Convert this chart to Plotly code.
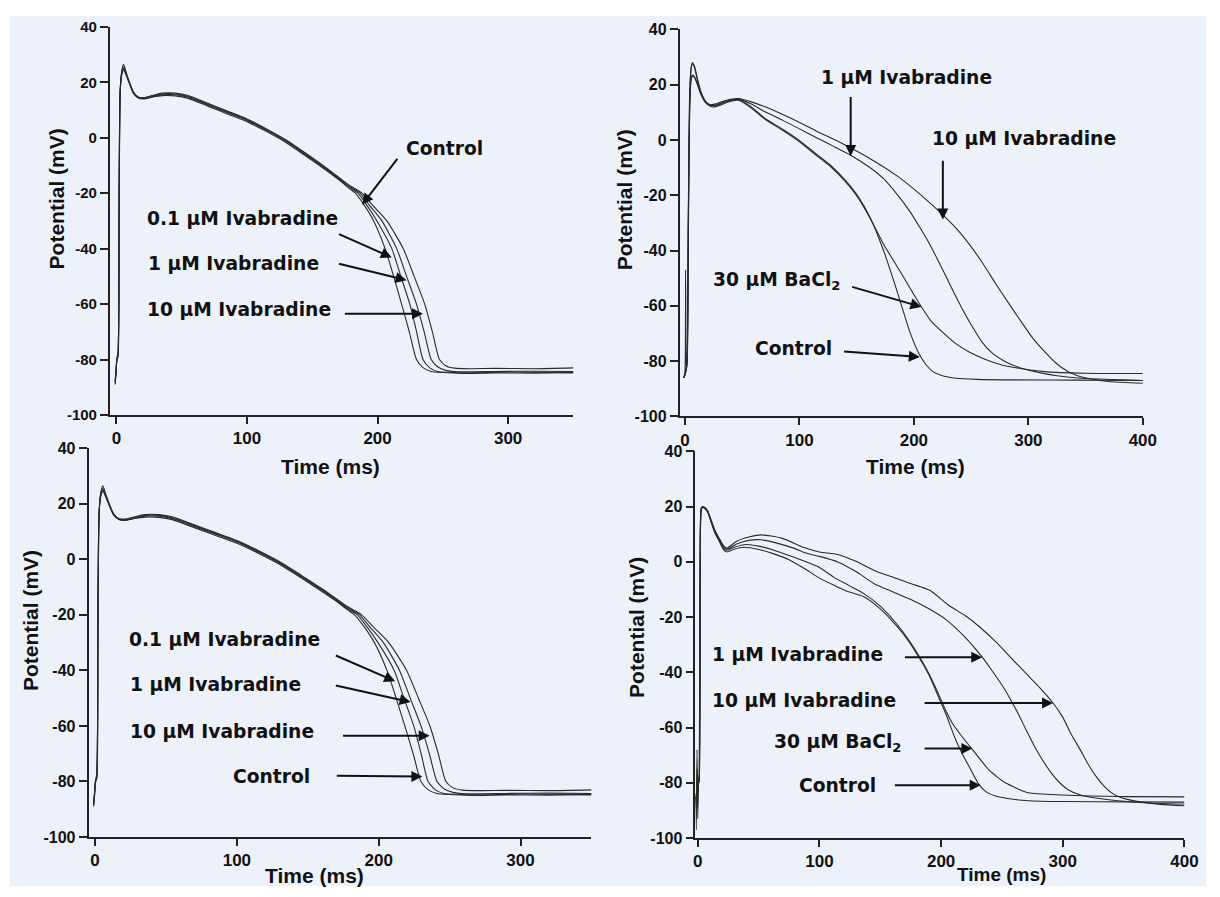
import plotly.graph_objects as go

W, H = 1220, 897

# ---------------- DATA ----------------
# Top-left / bottom-left panels (same recordings)
TL_T_EARLY = [-1.0, -0.3, 0.3, 1.2, 2.0, 2.8, 4.0, 5.5, 7.5, 10, 13, 17, 21, 27, 35, 45, 55, 70, 85, 100,
              115, 130, 145, 160, 172]
tl_control_v_early = [-89, -85, -80, -79, -30, 15, 24, 26.5, 23.5, 20, 16.5, 14.5, 14.2, 14.7, 15.2, 15.1, 14.2,
                      11.4, 8.6, 5.8, 2.2, -1.8, -6.6, -11.6, -15.8]
tl_iva01_v_early = [-88.5, -84, -80.5, -78.5, -26, 16, 23.5, 25.5, 23, 19.5, 16, 14.2, 14.0, 14.6, 15.5, 15.5,
                    14.6, 11.8, 9.0, 6.2, 2.6, -1.4, -6.2, -11.2, -15.5]
tl_iva1_v_early = [-88, -84, -80, -78, -24, 16.5, 23, 25, 22.8, 19.6, 16.2, 14.4, 14.2, 14.9, 15.8, 15.8, 14.9,
                   12.1, 9.3, 6.5, 2.9, -1.1, -5.9, -10.9, -15.2]
tl_iva10_v_early = [-87.5, -83.5, -79.5, -77.5, -22, 17, 22.5, 24.5, 22.5, 19.5, 16.3, 14.6, 14.5, 15.2, 16.1,
                    16.1, 15.2, 12.4, 9.6, 6.8, 3.2, -0.8, -5.6, -10.6, -14.9]

tl_control_t_late = [178, 183, 190, 197, 205.8, 212.3, 218.4, 224.3, 229.8, 235, 241, 250, 265, 290, 320, 350]
tl_control_v_late = [-18.2, -20, -24.5, -30, -40, -50, -60, -70, -80, -83, -84.3, -84.7, -85, -84.8, -84.9, -84.7]
tl_iva01_t_late = [178, 185, 192, 199.5, 210.9, 217.8, 224.7, 229.9, 234.8, 240, 246, 255, 270, 300, 350]
tl_iva01_v_late = [-17.8, -20, -24.5, -30, -40, -50, -60, -70, -80, -83, -84.3, -84.6, -84.8, -84.5, -84.8]
tl_iva1_t_late = [178, 186.5, 194, 203.3, 214.7, 222.2, 229.8, 235.7, 241.1, 246.5, 253, 262, 290, 320, 350]
tl_iva1_v_late = [-17.4, -20, -24.5, -30, -40, -50, -60, -70, -80, -82.8, -84, -84.4, -84.3, -84.2, -84.3]
tl_iva10_t_late = [178, 188, 196.5, 207.1, 219.7, 228, 236.1, 242, 247.4, 252.5, 259, 270, 290, 320, 350]
tl_iva10_v_late = [-17.0, -20, -24.5, -30, -40, -50, -60, -70, -80, -82.3, -83.1, -83.3, -83.2, -83.3, -83]

# Top-right panel
TR_T_EARLY = [-1.0, 0.0, 0.6, 1.2, 2.0, 3.0, 4.2, 5.5, 6.5, 8.5, 11, 14, 18, 22, 26, 32, 40, 47]
tr_control_v_early = [-86, -84, -47, -83, -80, -30, 15, 26, 28, 26.5, 22, 17.5, 14, 12.6, 12.4, 13.2, 14.3, 14.6]
tr_bacl2_v_early = [-86, -85, -84, -83, -80, -35, 12, 22, 23.2, 22.5, 20, 16.5, 13.5, 12.2, 12.0, 12.8, 14.0, 14.4]
tr_iva1_v_early = [-86, -85, -84, -83, -79, -25, 18, 26.5, 27.5, 26, 21.5, 17, 13.8, 12.6, 12.6, 13.4, 14.5, 14.8]
tr_iva10_v_early = [-86, -85, -84, -82, -78, -28, 14, 22.5, 23.5, 22.8, 20.2, 16.8, 13.8, 12.8, 13.0, 13.8, 14.7,
                    15.0]

tr_control_t_late = [58, 70, 85, 99, 113, 127.6, 140, 150.6, 162, 173.5, 185, 196.6, 205.2, 211, 216.6, 225,
                     236.8, 255, 290, 340, 400]
tr_control_v_late = [12, 7.8, 4, 0.1, -4.5, -9.3, -14.5, -20, -28.2, -40, -54.3, -69.6, -77.9, -81.5, -83.8,
                     -85.3, -86.2, -86.6, -86.8, -86.9, -87]
tr_bacl2_t_late = [58, 70, 85, 99, 113, 127.6, 140, 150.6, 162, 173.5, 182, 190.8, 199, 206.6, 215, 225.3, 236,
                   248.3, 262, 277, 295, 314, 350, 400]
tr_bacl2_v_late = [11.6, 7.5, 3.6, -0.3, -5, -9.8, -15, -20.5, -28.5, -37.7, -43.5, -49.5, -55.3, -60.4, -65.5,
                   -69.6, -73.5, -76.7, -79.3, -81.4, -82.8, -83.8, -84.4, -84.5]
tr_iva1_t_late = [58, 70, 85, 98.9, 115, 130, 144.8, 160, 173.5, 185, 196.6, 205, 213.8, 221, 228.2, 235, 242.5,
                  251, 259.7, 269, 279.9, 292, 305.7, 325, 350, 400]
tr_iva1_v_late = [13, 10.2, 7.2, 4.3, 0.8, -2.3, -5.5, -9.5, -14, -19.5, -25.9, -31.5, -37.7, -43.5, -49.5,
                  -55.3, -61.3, -67.5, -73.2, -77.3, -80.2, -82.3, -83.8, -85.3, -86.3, -87]
tr_iva10_t_late = [58, 70, 85, 98.9, 115, 139, 160, 185, 205, 225.3, 237, 248.3, 260, 271.3, 283, 294.3, 304,
                   314.4, 324, 334.5, 343, 351.7, 370, 400]
tr_iva10_v_late = [13.8, 12, 9.3, 6.6, 3.2, -1.6, -6.3, -12.9, -19.5, -27.1, -32, -37.7, -44.5, -51.9, -59.2,
                   -66.1, -71.8, -76.7, -80.7, -83.8, -85.3, -86.2, -87.4, -88]

# Bottom-right panel
BR_T_EARLY = [-1.8, -1.2, -0.6, 0.0, 0.6, 1.2, 2.0, 2.8, 4.0, 6.0, 8.0, 11, 14, 17.6, 21, 24]
br_control_v_early = [-84, -97, -68, -93, -78, -80, -10, 19, 20, 19.5, 18.5, 14.5, 10.5, 7.5, 4.5, 3.6]
br_bacl2_v_early = [-85, -90, -75, -88, -80, -79, -5, 18.5, 19.8, 19.2, 18.2, 14.5, 10.8, 7.8, 5, 4.2]
br_iva1_v_early = [-85, -88, -80, -85, -80, -78, 0, 19, 20, 19.3, 18.3, 14.8, 11.2, 8.2, 5.5, 4.6]
br_iva10_v_early = [-85, -86, -82, -84, -80, -77, 5, 19.5, 20, 19.6, 18.6, 15.2, 11.6, 8.6, 6, 5]

br_control_t_late = [30, 38, 50, 62, 75, 88, 99, 112, 122, 136.5, 150, 163.6, 173, 182.5, 190, 196, 204, 212.2,
                     218, 223, 231, 237, 244.7, 256, 271.7, 300, 352.8, 400]
br_control_v_late = [4.6, 5.3, 4.5, 3, 0.8, -2.5, -5.6, -8.5, -10.5, -12.6, -17, -23.3, -28.5, -35.1, -41, -47,
                     -55.2, -64.7, -70, -74.1, -80.6, -83.3, -84.8, -85.8, -86.5, -86.8, -86.9, -87]
br_bacl2_t_late = [30, 40, 50, 62, 75, 88, 99, 112, 124, 136.5, 150, 163.6, 173, 182.5, 190, 196, 204, 210,
                   217.6, 228.4, 239.2, 252.8, 271.7, 300, 352.8, 400]
br_bacl2_v_late = [5.3, 6.3, 5.7, 4.3, 2.3, 0.2, -1.8, -5.6, -8.5, -11.5, -16, -22.5, -28, -34.5, -40.5, -46,
                   -54, -59, -63.5, -69.4, -75.3, -80, -83.6, -84.4, -85, -85.1]
br_iva1_t_late = [32, 42, 52, 65, 80, 88, 100, 115, 130, 145, 160, 176, 190, 204, 219, 233.8, 242, 250, 257,
                  263.6, 270, 277, 284, 290.6, 297, 304, 314, 325.8, 345, 370, 400]
br_iva1_v_late = [6.5, 7.8, 8, 6.8, 4.8, 3.3, 2.0, 0, -3.5, -7.9, -10.8, -13.8, -17, -20.9, -27, -34.5, -39.5,
                  -44.6, -49.8, -55.2, -61, -67, -72.2, -76.5, -79.8, -82.4, -84.3, -85.4, -86.5, -87.3, -87.7]
br_iva10_t_late = [32, 42, 52, 69, 88, 100, 115, 130, 145, 160, 176, 190.6, 207, 220, 231, 245, 258.2, 270, 281,
                   292, 300, 306.8, 314, 320.4, 327, 333.9, 339, 344.7, 352.8, 365, 380, 400]
br_iva10_v_late = [7.5, 9, 9.8, 8.6, 5.1, 3.6, 2.7, 0.2, -3.1, -5.5, -8, -10.3, -16, -19.5, -23.3, -29, -35.1,
                   -40.5, -45.5, -51.1, -56.3, -62.3, -67.8, -72.9, -77.5, -81.2, -83.3, -84.8, -86, -87, -87.8,
                   -88.3]

Y_TICKS = [-100, -80, -60, -40, -20, 0, 20, 40]
Y_TICK_LABELS = ["-100", "-80", "-60", "-40", "-20", "0", "20", "40"]
X_TICKS_350 = [0, 100, 200, 300]
X_TICKS_400 = [0, 100, 200, 300, 400]
X_TICK_LABELS_350 = ["0", "100", "200", "300"]
X_TICK_LABELS_400 = ["0", "100", "200", "300", "400"]

# ---------------- FIGURE ----------------
BG = "#EDF1FA"
LINE = "#2a2a2a"
AXC = "#222222"
TXT_FONT = dict(family="DejaVu Sans, Verdana, sans-serif", size=18.7, color="#111111", weight="bold")
TITLE_FONT = dict(family="Liberation Sans, Arial, sans-serif", size=21, color="#111111", weight="bold")

fig = go.Figure()


def add_trace(t, v, ax):
    fig.add_trace(go.Scatter(x=t, y=v, mode="lines", xaxis="x" + ax, yaxis="y" + ax,
                             line=dict(color=LINE, width=1.1, shape="spline", smoothing=0.6),
                             hoverinfo="skip", showlegend=False))


for ax in ["", "3"]:
    add_trace(TL_T_EARLY + tl_control_t_late, tl_control_v_early + tl_control_v_late, ax)
    add_trace(TL_T_EARLY + tl_iva01_t_late, tl_iva01_v_early + tl_iva01_v_late, ax)
    add_trace(TL_T_EARLY + tl_iva1_t_late, tl_iva1_v_early + tl_iva1_v_late, ax)
    add_trace(TL_T_EARLY + tl_iva10_t_late, tl_iva10_v_early + tl_iva10_v_late, ax)

add_trace(TR_T_EARLY + tr_control_t_late, tr_control_v_early + tr_control_v_late, "2")
add_trace(TR_T_EARLY + tr_bacl2_t_late, tr_bacl2_v_early + tr_bacl2_v_late, "2")
add_trace(TR_T_EARLY + tr_iva1_t_late, tr_iva1_v_early + tr_iva1_v_late, "2")
add_trace(TR_T_EARLY + tr_iva10_t_late, tr_iva10_v_early + tr_iva10_v_late, "2")

add_trace(BR_T_EARLY + br_control_t_late, br_control_v_early + br_control_v_late, "4")
add_trace(BR_T_EARLY + br_bacl2_t_late, br_bacl2_v_early + br_bacl2_v_late, "4")
add_trace(BR_T_EARLY + br_iva1_t_late, br_iva1_v_early + br_iva1_v_late, "4")
add_trace(BR_T_EARLY + br_iva10_t_late, br_iva10_v_early + br_iva10_v_late, "4")


def xdom(a, b):
    return [a / W, b / W]


def ydom(top_px, bottom_px):
    return [1 - bottom_px / H, 1 - top_px / H]


def bold(labels):
    return ["<b>%s</b>" % s for s in labels]


def xaxis(dom, rng, ticks, labels, anchor):
    return dict(domain=dom, range=rng, tickvals=ticks, ticktext=bold(labels), anchor=anchor, showline=True,
                linecolor=AXC, linewidth=1.8, ticks="outside", ticklen=7, tickwidth=1.5, tickcolor=AXC,
                showgrid=False, zeroline=False, fixedrange=True,
                tickfont=dict(family="Liberation Sans, Arial, sans-serif", size=17, color="#111"))


def yaxis(dom, anchor, size):
    return dict(domain=dom, range=[-100, 40], tickvals=Y_TICKS, ticktext=bold(Y_TICK_LABELS), anchor=anchor,
                showline=True, linecolor=AXC, linewidth=1.8, ticks="outside", ticklen=8, tickwidth=1.5,
                tickcolor=AXC, showgrid=False, zeroline=False, fixedrange=True,
                tickfont=dict(family="Liberation Sans, Arial, sans-serif", size=size, color="#111"))


layout = dict(
    width=W, height=H, margin=dict(l=0, r=0, t=0, b=0),
    paper_bgcolor="white", plot_bgcolor="rgba(0,0,0,0)", showlegend=False,
    xaxis=xaxis(xdom(109.3, 579.0), [-5.06, 350], X_TICKS_350, X_TICK_LABELS_350, "y"),
    yaxis=yaxis(ydom(18.2, 414.3), "x", 15),
    xaxis2=xaxis(xdom(686.7, 1156.0), [-4.57, 400], X_TICKS_400, X_TICK_LABELS_400, "y2"),
    yaxis2=yaxis(ydom(20.9, 415.7), "x2", 16),
    xaxis3=xaxis(xdom(87.7, 597.3), [-4.59, 350], X_TICKS_350, X_TICK_LABELS_350, "y3"),
    yaxis3=yaxis(ydom(448.2, 845.0), "x3", 16),
    xaxis4=xaxis(xdom(702.7, 1198.2), [-1.87, 400], X_TICKS_400, X_TICK_LABELS_400, "y4"),
    yaxis4=yaxis(ydom(451.5, 846.0), "x4", 16),
    shapes=[dict(type="rect", xref="paper", yref="paper", x0=8 / W, x1=1, y0=2 / H, y1=1 - 7 / H,
                 fillcolor=BG, line=dict(width=0), layer="below")],
)
fig.update_layout(**layout)

annotations = []

# label texts: (text, x, y, axis suffix)
labels = [
    ("Control", 250.9, -4.0, ""), ("0.1 µM Ivabradine", 96.4, -29.2, ""),
    ("1 µM Ivabradine", 89.3, -45.4, ""), ("10 µM Ivabradine", 94.1, -62.0, ""),
    ("1 µM Ivabradine", 193.7, 22.5, "2"), ("10 µM Ivabradine", 296.3, 0.5, "2"),
    ("30 µM BaCl<sub>2</sub>", 79.9, -51.0, "2"), ("Control", 94.6, -75.5, "2"),
    ("0.1 µM Ivabradine", 91.5, -28.7, "3"), ("1 µM Ivabradine", 85.2, -44.9, "3"),
    ("10 µM Ivabradine", 89.4, -61.9, "3"), ("Control", 124.1, -78.2, "3"),
    ("1 µM Ivabradine", 81.8, -33.7, "4"), ("10 µM Ivabradine", 87.2, -50.2, "4"),
    ("30 µM BaCl<sub>2</sub>", 114.5, -65.6, "4"), ("Control", 114.9, -80.9, "4"),
]
for text, x, y, s in labels:
    annotations.append(dict(text=text, x=x, y=y, xref="x" + s, yref="y" + s, showarrow=False,
                            xanchor="center", yanchor="middle", font=TXT_FONT))

# arrows: (tail x, tail y, tip x, tip y, axis suffix)
arrows = [
    (216, -7.1, 188.2, -24.1, ""), (169.3, -34.5, 210.9, -43.2, ""),
    (169.3, -45.3, 222.2, -51.4, ""), (173.8, -63.5, 234.8, -63.5, ""),
    (144.8, 16.1, 144.8, -5.8, "2"), (225.3, -7.0, 225.3, -28.8, "2"),
    (144.8, -53.0, 206.6, -60.4, "2"), (137.7, -76.5, 205.2, -78.5, "2"),
    (168.7, -34.4, 211.6, -43.9, "3"), (168.7, -45.3, 222.5, -51.4, "3"),
    (173.8, -63.5, 235.9, -63.5, "3"), (169.4, -77.9, 230.8, -78.2, "3"),
    (169.0, -34.5, 233.8, -34.5, "4"), (185.2, -51.1, 292.0, -51.1, "4"),
    (185.2, -67.6, 225.7, -67.6, "4"), (160.8, -80.9, 232.5, -80.9, "4"),
]
for ax0, ay0, x1, y1, s in arrows:
    annotations.append(dict(text="", x=x1, y=y1, ax=ax0, ay=ay0, xref="x" + s, yref="y" + s,
                            axref="x" + s, ayref="y" + s, showarrow=True, arrowhead=2, arrowsize=1.1,
                            arrowwidth=2, arrowcolor="#111111", standoff=0, startstandoff=0,
                            font=dict(size=1)))

# axis titles (paper coordinates): text, x px, y px, angle, size
titles = [
    ("Time (ms)", 332.7, 466.5, 0, 21), ("Time (ms)", 926.0, 466.7, 0, 21),
    ("Time (ms)", 316.5, 884.0, 0, 21), ("Time (ms)", 1013.0, 883.0, 0, 19),
    ("Potential (mV)", 55.0, 194.0, -90, 21), ("Potential (mV)", 630.5, 195.0, -90, 21),
    ("Potential (mV)", 29.0, 624.0, -90, 21), ("Potential (mV)", 643.0, 631.0, -90, 21),
]
for text, px, py, ang, sz in titles:
    f = dict(TITLE_FONT)
    f["size"] = sz
    annotations.append(dict(text=text, x=px / W, y=1 - py / H, xref="paper", yref="paper", showarrow=False,
                            xanchor="center", yanchor="middle", textangle=ang, font=f))

fig.update_layout(annotations=annotations)

fig.write_html(
    "out.html",
    config={"displayModeBar": False},
    post_script="document.documentElement.style.margin='0';document.body.style.margin='0';"
                "document.body.style.padding='0';document.documentElement.style.overflow='hidden';"
                "document.body.style.overflow='hidden';",
)
